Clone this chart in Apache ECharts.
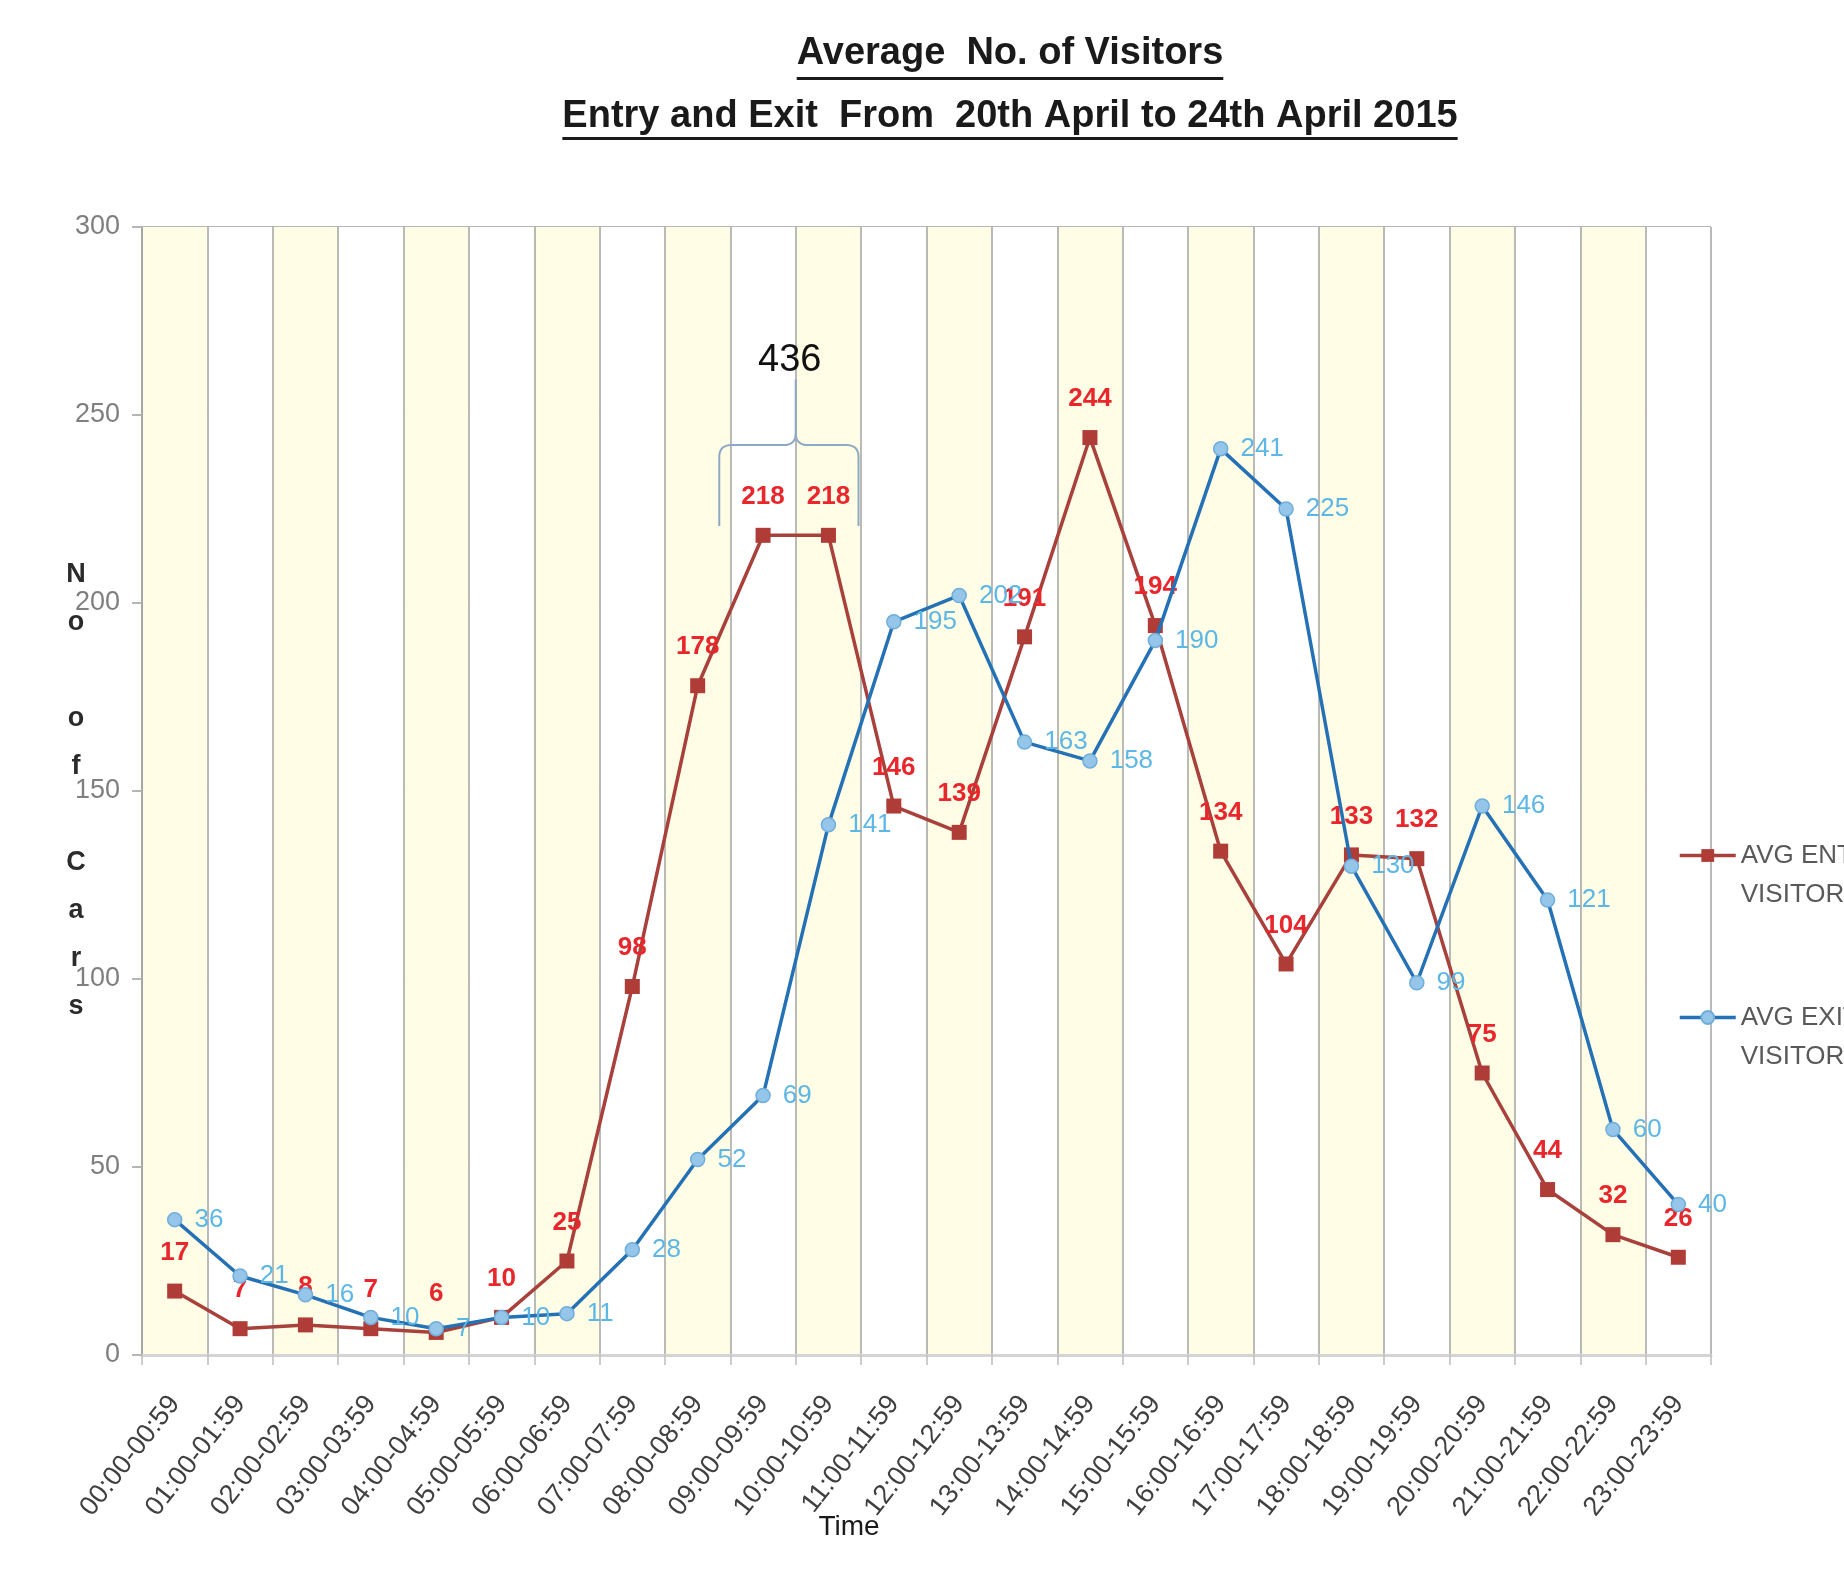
<!DOCTYPE html>
<html>
<head>
<meta charset="utf-8">
<title>Average No. of Visitors</title>
<script src="https://cdn.jsdelivr.net/npm/echarts@6/dist/echarts.min.js"></script>
<style>
  html, body { margin: 0; padding: 0; background: #fff; }
  #main { width: 1844px; height: 1575px; }
</style>
</head>
<body>
<div id="main"></div>
<script>
// hourly slots
var hours = ['00:00-00:59', '01:00-01:59', '02:00-02:59', '03:00-03:59', '04:00-04:59', '05:00-05:59',
  '06:00-06:59', '07:00-07:59', '08:00-08:59', '09:00-09:59', '10:00-10:59', '11:00-11:59',
  '12:00-12:59', '13:00-13:59', '14:00-14:59', '15:00-15:59', '16:00-16:59', '17:00-17:59',
  '18:00-18:59', '19:00-19:59', '20:00-20:59', '21:00-21:59', '22:00-22:59', '23:00-23:59'];
var entryVisitors = [17, 7, 8, 7, 6, 10, 25, 98, 178, 218, 218, 146, 139, 191, 244, 194, 134, 104, 133, 132, 75, 44, 32, 26];
var exitVisitors = [36, 21, 16, 10, 7, 10, 11, 28, 52, 69, 141, 195, 202, 163, 158, 190, 241, 225, 130, 99, 146, 121, 60, 40];
var yMin = 0, yMax = 300, yStep = 50;
var peakSlots = [9, 10];   // the two 218 slots bracketed together
var peakTotal = entryVisitors[peakSlots[0]] + entryVisitors[peakSlots[1]];

var titleLines = ['Average  No. of Visitors', 'Entry and Exit  From  20th April to 24th April 2015'];
var entryName = 'AVG ENTRY\nVISITORS';
var exitName = 'AVG EXIT\nVISITORS';

var NARROW = '"Liberation Sans Narrow", "Liberation Sans", Arial, sans-serif';

function textWidth(font, txt) {
  var ctx = document.createElement('canvas').getContext('2d');
  ctx.font = font;
  return ctx.measureText(txt).width;
}

// points along a quadratic curve, for the bracket
function quad(a, c, b, n) {
  var pts = [];
  for (var i = 0; i <= n; i++) {
    var t = i / n, u = 1 - t;
    pts.push([u * u * a[0] + 2 * u * t * c[0] + t * t * b[0], u * u * a[1] + 2 * u * t * c[1] + t * t * b[1]]);
  }
  return pts;
}

var myChart = echarts.init(document.getElementById('main'));

var legendText = { fontFamily: NARROW, fontSize: 26, lineHeight: 39, color: '#595959' };

myChart.setOption({
  backgroundColor: '#ffffff',
  animation: false,
  grid: { left: 142, right: 133, top: 227, bottom: 220, containLabel: false, outerBoundsMode: 'none' },
  legend: [{
    data: [entryName],
    orient: 'vertical',
    left: 1673,
    top: 792,
    itemWidth: 56,
    itemHeight: 16,
    itemGap: 5,
    lineStyle: { width: 3.5 },
    formatter: function (name) { return ' \n' + name; },
    textStyle: legendText
  }, {
    data: [exitName],
    orient: 'vertical',
    left: 1673,
    top: 954,
    itemWidth: 56,
    itemHeight: 16,
    itemGap: 5,
    lineStyle: { width: 3.5 },
    formatter: function (name) { return ' \n' + name; },
    textStyle: legendText
  }],
  xAxis: {
    type: 'category',
    data: hours,
    boundaryGap: true,
    axisLine: { lineStyle: { color: '#d4d4d4', width: 3 } },
    axisTick: { show: true, length: 10, lineStyle: { color: '#bdbdbd', width: 1.5 } },
    axisLabel: { interval: 0, rotate: 52, margin: 44, fontFamily: NARROW, fontSize: 27, color: '#404040' },
    splitLine: { show: true, lineStyle: { color: '#a3a3a3', width: 1.5 } },
    splitArea: { show: true, areaStyle: { color: ['#fffde6', '#ffffff'] } }
  },
  yAxis: {
    type: 'value',
    min: yMin,
    max: yMax,
    interval: yStep,
    axisLine: { show: true, lineStyle: { color: '#a6a6a6', width: 2 } },
    axisTick: { show: true, length: 10, lineStyle: { color: '#b5b5b5', width: 2 } },
    axisLabel: { margin: 22, fontFamily: NARROW, fontSize: 27, color: '#7f7f7f' },
    splitLine: { show: true, lineStyle: { color: '#b5b5b5', width: 2 } }
  },
  series: [{
    name: entryName,
    type: 'line',
    data: entryVisitors,
    symbol: 'rect',
    symbolSize: 15,
    lineStyle: { color: '#a8403b', width: 3.5 },
    itemStyle: { color: '#b03c37' },
    label: { show: true, position: 'top', distance: 18, fontFamily: NARROW, fontSize: 26, fontWeight: 'bold', color: '#e8262b' },
    z: 2
  }, {
    name: exitName,
    type: 'line',
    data: exitVisitors,
    symbol: 'circle',
    symbolSize: 14,
    lineStyle: { color: '#2471b5', width: 3.5 },
    itemStyle: { color: '#95c6ea', borderColor: '#6eaedb', borderWidth: 1.5 },
    label: { show: true, position: 'right', distance: 12, fontFamily: NARROW, fontSize: 26, color: '#5db7e6' },
    z: 3
  }]
});

// title, axis names and the bracket annotation
var titleSize = Math.round(40 * 899 / textWidth('bold 40px ' + NARROW, titleLines[1]));
titleSize = Math.max(34, Math.min(46, titleSize));
var titleFont = 'bold ' + titleSize + 'px ' + NARROW;
var titleX = 1010;
var w1 = textWidth(titleFont, titleLines[0]);
var w2 = textWidth(titleFont, titleLines[1]);

var p0 = myChart.convertToPixel({ gridIndex: 0 }, [0, 0]);
var p1 = myChart.convertToPixel({ gridIndex: 0 }, [1, 0]);
var band = p1[0] - p0[0];
var pa = myChart.convertToPixel({ gridIndex: 0 }, [peakSlots[0], 220.5]);
var pb = myChart.convertToPixel({ gridIndex: 0 }, [peakSlots[1], 242]);
var ps = myChart.convertToPixel({ gridIndex: 0 }, [peakSlots[0], 259.5]);
var pt = myChart.convertToPixel({ gridIndex: 0 }, [peakSlots[0], 264.5]);
var xL = pa[0] - 0.67 * band, xR = pb[0] + 0.46 * band, xM = (pa[0] + pb[0]) / 2;
var yB = pa[1], yH = pb[1], yS = ps[1], r = 12;

var leftBrace = [[xL, yB]]
  .concat(quad([xL, yH + r], [xL, yH], [xL + r, yH], 8))
  .concat(quad([xM - r, yH], [xM, yH], [xM, yH - r], 8))
  .concat([[xM, yS]]);
var rightBrace = quad([xM, yH - r], [xM, yH], [xM + r, yH], 8)
  .concat(quad([xR - r, yH], [xR, yH], [xR, yH + r], 8))
  .concat([[xR, yB]]);

var centered = { align: 'center', verticalAlign: 'middle', textAlign: 'center', textVerticalAlign: 'middle' };
function txt(x, y, text, font, fill, extra) {
  return { type: 'text', x: x, y: y, z: 10, style: Object.assign({ text: text, font: font, fill: fill }, centered, extra || {}) };
}

myChart.setOption({
  graphic: [
    txt(titleX, 54, titleLines[0], titleFont, '#1a1a1a'),
    { type: 'rect', shape: { x: titleX - w1 / 2, y: 77, width: w1, height: 3 }, style: { fill: '#1a1a1a' } },
    txt(titleX, 117, titleLines[1], titleFont, '#1a1a1a'),
    { type: 'rect', shape: { x: titleX - w2 / 2, y: 137, width: w2, height: 3 }, style: { fill: '#1a1a1a' } },
    txt(76, 791, 'N\no\n\no\nf\n\nC\na\nr\ns', 'bold 27px ' + NARROW, '#2b2b2b', { lineHeight: 48 }),
    txt(849, 1527, 'Time', '28px ' + NARROW, '#1a1a1a'),
    { type: 'polyline', z: 10, shape: { points: leftBrace }, style: { fill: null, stroke: '#8ea9c3', lineWidth: 2 } },
    { type: 'polyline', z: 10, shape: { points: rightBrace }, style: { fill: null, stroke: '#8ea9c3', lineWidth: 2 } },
    txt(xM - 6, pt[1], String(peakTotal), '38px ' + NARROW, '#111111')
  ]
});
</script>
</body>
</html>
